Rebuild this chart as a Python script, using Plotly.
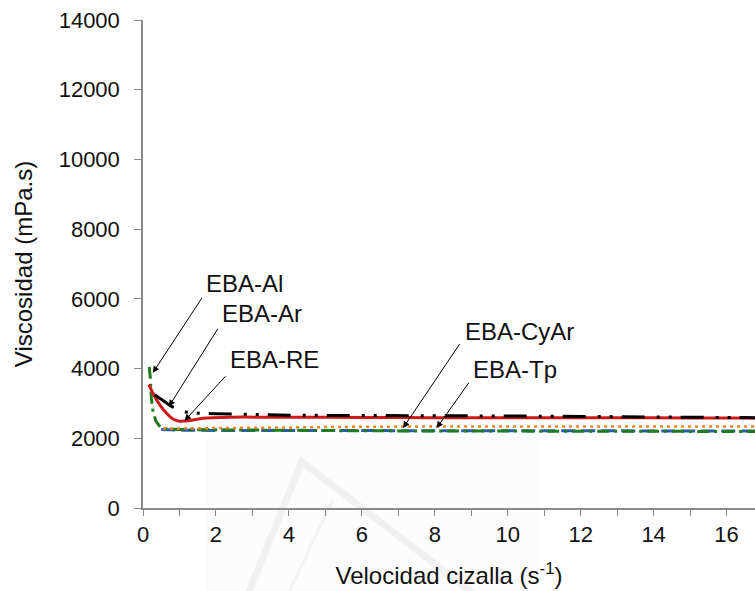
import plotly.graph_objects as go

# Shear-rate sweep: viscosity (mPa.s) vs shear rate (1/s)
re_x = [0.16, 0.27, 0.46, 0.64, 0.82, 1.0, 1.23, 1.65, 2.4, 3.5, 5, 7, 9, 11, 13, 15, 16.8]
re_y = [3540, 3300, 2960, 2725, 2555, 2490, 2500, 2575, 2605, 2605, 2600, 2595, 2590, 2590, 2588, 2585, 2585]

ar_x = [0.32, 0.78, 1.1, 1.5, 2, 3, 4, 5, 7, 8.5, 10, 12, 13.5, 16.8]
ar_y = [3250, 2915, 2760, 2720, 2705, 2680, 2662, 2657, 2655, 2648, 2640, 2628, 2611, 2590]

cyar_x = [0.55, 1, 2, 4, 6, 8, 10, 12, 14, 16.8]
cyar_y = [2280, 2285, 2295, 2310, 2330, 2340, 2340, 2340, 2340, 2340]

tp_x = [0.5, 1, 2, 4, 6, 8, 10, 12, 14, 16.8]
tp_y = [2250, 2230, 2225, 2220, 2218, 2218, 2215, 2215, 2212, 2210]

al_x = [0.17, 0.2, 0.23, 0.27, 0.35, 0.5, 1, 2, 4, 6, 8, 10, 12, 14, 16.8]
al_y = [4050, 3750, 3150, 2800, 2500, 2280, 2250, 2240, 2225, 2215, 2210, 2205, 2200, 2198, 2195]

x_ticks = [0, 2, 4, 6, 8, 10, 12, 14, 16]
y_ticks = [0, 2000, 4000, 6000, 8000, 10000, 12000, 14000]

labels = ["EBA-Al", "EBA-Ar", "EBA-RE", "EBA-CyAr", "EBA-Tp"]
# label text position, arrow tail, arrow tip (data units)
label_pos = [(2.78, 6445), (3.27, 5571), (3.61, 4252), (10.32, 5063), (10.21, 3965)]
arrow_tail = [(1.64, 6064), (2.08, 5189), (2.30, 3822), (8.71, 4748), (8.96, 3630)]
arrow_tip = [(0.27, 3879), (0.71, 2913), (1.14, 2503), (7.13, 2294), (8.05, 2294)]

FONT = "Liberation Sans, Arial, sans-serif"
AXIS_GREY = "#8a8a8a"
TEXT = "#111111"

fig = go.Figure()

fig.add_trace(go.Scatter(x=tp_x, y=tp_y, mode="lines", name="EBA-Tp",
                         line=dict(color="#2a5caa", width=3, dash="14px,6px")))
fig.add_trace(go.Scatter(x=al_x, y=al_y, mode="lines", name="EBA-Al",
                         line=dict(color="#1e7b1e", width=3, dash="12px,5px,3px,5px")))
fig.add_trace(go.Scatter(x=cyar_x, y=cyar_y, mode="lines", name="EBA-CyAr",
                         line=dict(color="#f08224", width=2.5, dash="3px,4px")))
fig.add_trace(go.Scatter(x=re_x, y=re_y, mode="lines", name="EBA-RE",
                         line=dict(color="#cc1a1a", width=3, shape="spline", smoothing=0.8)))
fig.add_trace(go.Scatter(x=ar_x, y=ar_y, mode="lines", name="EBA-Ar",
                         line=dict(color="#000000", width=3,
                                   dash="23px,12px,3px,9px,3px,9px")))

annotations = []
for name, (tx, ty), (ax_, ay_), (hx, hy) in zip(labels, label_pos, arrow_tail, arrow_tip):
    annotations.append(dict(x=tx, y=ty, xref="x", yref="y", text=name, showarrow=False,
                            font=dict(family=FONT, size=24, color=TEXT),
                            xanchor="center", yanchor="middle"))
    annotations.append(dict(x=hx, y=hy, ax=ax_, ay=ay_, xref="x", yref="y",
                            axref="x", ayref="y", text="", showarrow=True,
                            arrowhead=2, arrowsize=1.3, arrowwidth=1,
                            arrowcolor="#000000", standoff=0, startstandoff=0))

# faint background watermark
shapes = [
    dict(type="rect", xref="paper", yref="paper",
         x0=(207 - 143.3) / 611.7, x1=(540 - 143.3) / 611.7,
         y0=(508.3 - 595) / 488.3, y1=(508.3 - 437) / 488.3,
         fillcolor="#fcfcfc", line=dict(width=0), layer="below"),
    dict(type="path", xref="paper", yref="paper", layer="below",
         path="M {:.4f},{:.4f} L {:.4f},{:.4f} L {:.4f},{:.4f}".format(
             (248 - 143.3) / 611.7, (508.3 - 595) / 488.3,
             (302 - 143.3) / 611.7, (508.3 - 462) / 488.3,
             (475 - 143.3) / 611.7, (508.3 - 595) / 488.3),
         line=dict(color="#f1f1f1", width=7)),
    dict(type="line", xref="paper", yref="paper", layer="below",
         x0=(288 - 143.3) / 611.7, y0=(508.3 - 595) / 488.3,
         x1=(333 - 143.3) / 611.7, y1=(508.3 - 500) / 488.3,
         line=dict(color="#f3f3f3", width=3)),
]

fig.update_layout(
    width=755, height=591,
    margin=dict(l=143, r=0, t=20, b=83, pad=0),
    paper_bgcolor="#ffffff", plot_bgcolor="rgba(0,0,0,0)",
    showlegend=False,
    font=dict(family=FONT, color=TEXT),
    annotations=annotations,
    shapes=shapes,
)

fig.update_xaxes(
    range=[0, 16.78], tickvals=x_ticks, ticktext=[str(v) for v in x_ticks],
    showgrid=False, zeroline=False,
    showline=True, linecolor=AXIS_GREY, linewidth=1.5,
    ticks="outside", ticklen=6, tickwidth=1.2, tickcolor=AXIS_GREY,
    minor=dict(dtick=1, ticks="outside", ticklen=6, tickwidth=1.2, tickcolor=AXIS_GREY, showgrid=False),
    tickfont=dict(family=FONT, size=22, color=TEXT),
    title=dict(text="Velocidad cizalla (s<sup>-1</sup>)",
               font=dict(family=FONT, size=24, color=TEXT), standoff=21),
)
fig.update_yaxes(
    range=[0, 14000], tickvals=y_ticks, ticktext=[str(v) for v in y_ticks],
    showgrid=False, zeroline=False,
    showline=True, linecolor=AXIS_GREY, linewidth=1.5,
    ticks="outside", ticklen=7, tickwidth=1.2, tickcolor=AXIS_GREY,
    tickfont=dict(family=FONT, size=22, color=TEXT),
    ticklabelstandoff=10,
    title=dict(text="Viscosidad (mPa.s)",
               font=dict(family=FONT, size=24, color=TEXT), standoff=19),
)

fig.write_html("out.html")
